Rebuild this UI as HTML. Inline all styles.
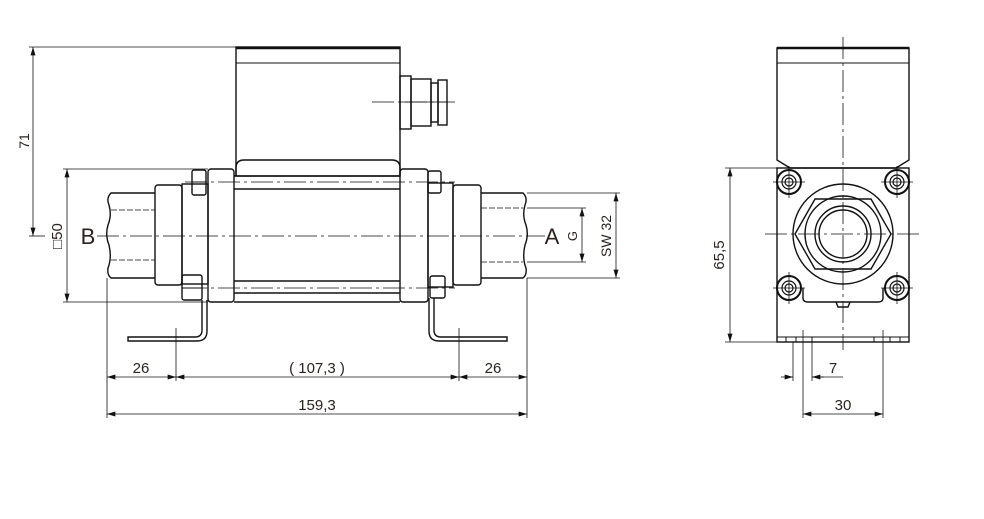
<!DOCTYPE html>
<html><head><meta charset="utf-8"><style>
html,body{margin:0;padding:0;background:#fff;}
svg{display:block;}
text{font-family:"Liberation Sans",sans-serif;fill:#2a2220;}
</style></head><body>
<svg width="984" height="519" viewBox="0 0 984 519" xmlns="http://www.w3.org/2000/svg">
<defs>
<marker id="ar" viewBox="0 0 10 6" refX="10" refY="3" markerWidth="9" markerHeight="5" orient="auto-start-reverse" markerUnits="userSpaceOnUse"><path d="M0,0 L10,3 L0,6z" fill="#111"/></marker>
</defs>
<g fill="none" stroke="#111" stroke-width="1.4">
<rect x="236" y="47" width="164" height="129"/>
<line x1="236" y1="48" x2="400" y2="48" stroke-width="2.5"/>
<line x1="236" y1="63" x2="400" y2="63" stroke-width="1"/>
<path d="M236,176 L236,168 Q236,160 244,160 L392,160 Q400,160 400,168 L400,176"/>
<rect x="400" y="76" width="11" height="53"/>
<rect x="411" y="79" width="20" height="47"/>
<rect x="431" y="83" width="7" height="39"/>
<rect x="438" y="80" width="9" height="45"/>
<line x1="400" y1="102" x2="447" y2="102" stroke-width="0.8"/>
<rect x="208" y="169" width="26" height="133" rx="3"/>
<rect x="400" y="169" width="28" height="133" rx="3"/>
<line x1="234" y1="176" x2="400" y2="176"/>
<line x1="234" y1="189" x2="400" y2="189"/>
<line x1="234" y1="281" x2="400" y2="281"/>
<line x1="234" y1="293" x2="400" y2="293"/>
<line x1="234" y1="302" x2="400" y2="302"/>
<rect x="155" y="185" width="27" height="100" rx="3"/>
<rect x="182" y="184" width="26" height="100"/>
<rect x="428" y="183" width="25" height="104"/>
<rect x="453" y="185" width="28" height="100" rx="3"/>
<path d="M155,193 L111,193 Q106,198 109,205 Q112,215 108,225 Q105,235 109,245 Q112,258 108,268 Q107,275 111,278 L155,278"/>
<path d="M481,193 L523,193 Q528,198 525,205 Q522,215 526,225 Q529,235 525,245 Q522,258 526,268 Q527,275 523,278 L481,278"/>
<rect x="192" y="170" width="14" height="25" rx="2"/>
<line x1="192" y1="182" x2="206" y2="182" stroke-width="1"/>
<rect x="182" y="275" width="20" height="25" rx="2"/>
<line x1="182" y1="288" x2="202" y2="288" stroke-width="1"/>
<rect x="428" y="171" width="13" height="22" rx="2"/>
<rect x="430" y="276" width="15" height="22" rx="2"/>
<path d="M202,300 L202,330 Q202,337 195,337 L128,337 L128,341 L197,341 Q207,341 207,331 L207,300"/>
<path d="M434,298 L434,330 Q434,337 441,337 L507,337 L507,341 L439,341 Q429,341 429,331 L429,298"/>
<path d="M777,160 L777,48 L909,48 L909,160 L896,168 L790,168 Z"/>
<line x1="777" y1="48" x2="909" y2="48" stroke-width="2.5"/>
<line x1="777" y1="63" x2="909" y2="63" stroke-width="1"/>
<rect x="777" y="168" width="132" height="174"/>
<line x1="777" y1="337" x2="909" y2="337" stroke-width="1"/>
<path d="M786,337v5M796,337v5M812,337v5M874,337v5M890,337v5M900,337v5" stroke-width="1"/>
<circle cx="843" cy="234" r="50"/>
<polygon points="815,199 871,199 891,234 871,269 815,269 795,234"/>
<circle cx="843" cy="234" r="38"/>
<circle cx="843" cy="234" r="28"/>
<circle cx="843" cy="234" r="24"/>
<path d="M803,288 L803,298 Q803,302 808,302 L878,302 Q883,302 883,298 L883,288"/>
<path d="M836,302 L838,307 L848,307 L850,302"/>
</g>
<g fill="none" stroke="#111">
<g stroke-width="2"><circle cx="789" cy="182" r="12"/><circle cx="897" cy="182" r="12"/><circle cx="789" cy="288" r="12"/><circle cx="897" cy="288" r="12"/></g>
<g stroke-width="1.2"><circle cx="789" cy="182" r="7"/><circle cx="897" cy="182" r="7"/><circle cx="789" cy="288" r="7"/><circle cx="897" cy="288" r="7"/>
<circle cx="789" cy="182" r="4"/><circle cx="897" cy="182" r="4"/><circle cx="789" cy="288" r="4"/><circle cx="897" cy="288" r="4"/></g>
<g stroke-width="0.8"><path d="M773,182h32M789,166v32M881,182h32M897,166v32M773,288h32M789,272v32M881,288h32M897,272v32"/></g>
</g>
<g stroke="#111" stroke-width="0.8" fill="none" stroke-dasharray="22,4,3,4">
<line x1="97" y1="236" x2="545" y2="236"/>
<line x1="185" y1="182" x2="455" y2="182"/>
<line x1="185" y1="288" x2="455" y2="288"/>
<line x1="372" y1="102" x2="455" y2="102"/>
<line x1="843" y1="37" x2="843" y2="350"/>
<line x1="765" y1="234" x2="921" y2="234"/>
<line x1="176" y1="328" x2="176" y2="345"/>
<line x1="459" y1="328" x2="459" y2="345"/>
<line x1="803" y1="330" x2="803" y2="345"/>
<line x1="883" y1="330" x2="883" y2="345"/>
</g>
<g stroke="#111" stroke-width="0.8" stroke-dasharray="6,2" fill="none">
<line x1="111" y1="210" x2="155" y2="210"/><line x1="111" y1="260" x2="155" y2="260"/>
<line x1="481" y1="208" x2="523" y2="208"/><line x1="481" y1="262" x2="523" y2="262"/>
</g>
<g stroke="#111" stroke-width="0.8" fill="none">
<line x1="29" y1="47" x2="236" y2="47"/>
<line x1="29" y1="236" x2="45" y2="236"/>
<line x1="33" y1="47" x2="33" y2="236" marker-start="url(#ar)" marker-end="url(#ar)"/>
<line x1="63" y1="169" x2="208" y2="169"/>
<line x1="63" y1="302" x2="208" y2="302"/>
<line x1="67" y1="169" x2="67" y2="302" marker-start="url(#ar)" marker-end="url(#ar)"/>
<line x1="527" y1="208" x2="586" y2="208"/>
<line x1="527" y1="262" x2="586" y2="262"/>
<line x1="582" y1="208" x2="582" y2="262" marker-start="url(#ar)" marker-end="url(#ar)"/>
<line x1="527" y1="193" x2="620" y2="193"/>
<line x1="527" y1="278" x2="620" y2="278"/>
<line x1="616" y1="193" x2="616" y2="278" marker-start="url(#ar)" marker-end="url(#ar)"/>
<line x1="107" y1="278" x2="107" y2="418"/>
<line x1="527" y1="278" x2="527" y2="418"/>
<line x1="176" y1="345" x2="176" y2="381"/>
<line x1="459" y1="345" x2="459" y2="381"/>
<line x1="107" y1="377" x2="176" y2="377" marker-start="url(#ar)" marker-end="url(#ar)"/>
<line x1="176" y1="377" x2="459" y2="377" marker-start="url(#ar)" marker-end="url(#ar)"/>
<line x1="459" y1="377" x2="527" y2="377" marker-start="url(#ar)" marker-end="url(#ar)"/>
<line x1="107" y1="414" x2="527" y2="414" marker-start="url(#ar)" marker-end="url(#ar)"/>
<line x1="725" y1="168" x2="777" y2="168"/>
<line x1="725" y1="342" x2="777" y2="342"/>
<line x1="730" y1="168" x2="730" y2="342" marker-start="url(#ar)" marker-end="url(#ar)"/>
<line x1="793" y1="342" x2="793" y2="381"/>
<line x1="812" y1="342" x2="812" y2="381"/>
<line x1="803" y1="345" x2="803" y2="418"/>
<line x1="883" y1="345" x2="883" y2="418"/>
<line x1="781" y1="377" x2="793" y2="377" marker-end="url(#ar)"/>
<line x1="824" y1="377" x2="812" y2="377" marker-end="url(#ar)"/>
<line x1="812" y1="377" x2="843" y2="377"/>
<line x1="803" y1="414" x2="883" y2="414" marker-start="url(#ar)" marker-end="url(#ar)"/>
</g>
<text x="88" y="244" font-size="22" text-anchor="middle">B</text>
<text x="552" y="244" font-size="22" text-anchor="middle">A</text>
<text transform="translate(29,141) rotate(-90)" font-size="14" text-anchor="middle">71</text>
<text transform="translate(62,236) rotate(-90)" font-size="15" text-anchor="middle">□50</text>
<text transform="translate(577,236) rotate(-90)" font-size="13" text-anchor="middle">G</text>
<text transform="translate(611,236) rotate(-90)" font-size="14" text-anchor="middle">SW 32</text>
<text x="141" y="373" font-size="15" text-anchor="middle">26</text>
<text x="317" y="373" font-size="15" text-anchor="middle">( 107,3 )</text>
<text x="493" y="373" font-size="15" text-anchor="middle">26</text>
<text x="317" y="410" font-size="15" text-anchor="middle">159,3</text>
<text transform="translate(724,255) rotate(-90)" font-size="15" text-anchor="middle">65,5</text>
<text x="833" y="373" font-size="15" text-anchor="middle">7</text>
<text x="843" y="410" font-size="15" text-anchor="middle">30</text>
</svg>
</body></html>
